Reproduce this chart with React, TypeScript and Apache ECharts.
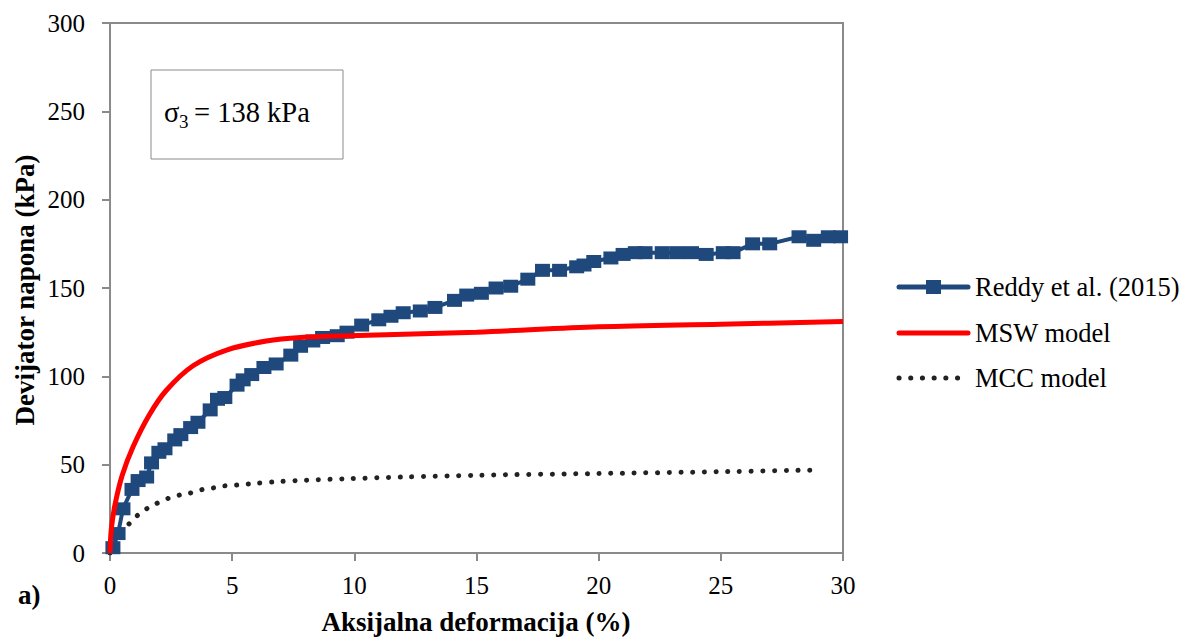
import React, { useEffect, useRef } from "react";
import * as echarts from "echarts";

const xTicks = [0, 5, 10, 15, 20, 25, 30];
const yTicks = [0, 50, 100, 150, 200, 250, 300];

const reddyX = [0.12, 0.33, 0.53, 0.9, 1.15, 1.5, 1.7, 2.0, 2.25, 2.65, 2.9, 3.3, 3.6, 4.1, 4.4, 4.7, 5.2, 5.45, 5.8, 6.3, 6.8, 7.4, 7.8, 8.3, 8.7, 9.3, 9.7, 10.3, 11.0, 11.5, 12.0, 12.7, 13.3, 14.1, 14.6, 15.2, 15.8, 16.4, 17.1, 17.7, 18.4, 19.1, 19.4, 19.8, 20.5, 21.0, 21.5, 21.9, 22.6, 23.2, 23.8, 24.4, 25.1, 25.5, 26.3, 27.0, 28.2, 28.8, 29.4, 29.9];
const reddyY = [3, 11, 25, 36, 41, 43, 51, 57, 59, 64, 67, 71, 74, 81, 87, 88, 95, 98, 101, 105, 107, 112, 117, 120, 122, 123, 125, 129, 132, 134, 136, 137, 139, 143, 146, 147, 150, 151, 155, 160, 160, 162, 163, 165, 167, 169, 170, 170, 170, 170, 170, 169, 170, 170, 175, 175, 179, 177, 179, 179];

const mswX = [0, 0.05, 0.2, 0.5, 0.94, 1.6, 2.3, 3.4, 4.8, 6.4, 7.8, 9.8, 15, 20, 25, 30];
const mswY = [0, 13, 27, 44, 60, 78, 92, 106, 115, 120, 122, 123, 125, 128, 129.5, 131];

const mccX = [0, 0.2, 0.5, 0.75, 1.1, 1.5, 1.9, 2.4, 2.9, 3.3, 3.8, 4.3, 4.7, 5.2, 6, 7, 8, 9.6, 12, 15, 20, 25, 29];
const mccY = [0, 6, 11, 16, 21, 25, 28, 31, 33, 34, 36, 37, 38, 38.5, 39.5, 40.5, 41.2, 42, 43, 44, 45, 46, 47];

const seriesNames = ["Reddy et al. (2015)", "MSW model", "MCC model"];
const FONT = "Liberation Serif, Times New Roman, serif";
const AXIS_COLOR = "#8a8a8a";
const BLUE = "#1F497D";
const RED = "#FF0000";
const DARK = "#222222";

const zip = (xs: number[], ys: number[]) => xs.map((x, i) => [x, ys[i]]);

const txt = (text: string, size: number, weight: string = "normal") => ({
  text,
  fontSize: size,
  fontFamily: FONT,
  fontWeight: weight,
  fill: "#000",
});

export default function App() {
  const ref = useRef<HTMLDivElement>(null);
  useEffect(() => {
    if (!ref.current) return;
    const chart = echarts.init(ref.current, null, { renderer: "svg" });
    const legendX = 897;
    const legendRows = [287, 333, 378];
    chart.setOption({
      animation: false,
      backgroundColor: "#ffffff",
      textStyle: { fontFamily: FONT },
      grid: {
        left: 110,
        top: 23,
        right: 342,
        bottom: 87,
        show: true,
        borderColor: AXIS_COLOR,
        borderWidth: 2,
      },
      xAxis: {
        type: "value",
        min: xTicks[0],
        max: xTicks[xTicks.length - 1],
        interval: 5,
        axisLine: { show: true, lineStyle: { color: AXIS_COLOR, width: 2 } },
        axisTick: { show: true, length: 8, lineStyle: { color: AXIS_COLOR, width: 2 } },
        splitLine: { show: false },
        axisLabel: { color: "#000", fontSize: 25, fontFamily: FONT, margin: 20 },
      },
      yAxis: {
        type: "value",
        min: yTicks[0],
        max: yTicks[yTicks.length - 1],
        interval: 50,
        axisLine: { show: true, lineStyle: { color: AXIS_COLOR, width: 2 } },
        axisTick: { show: true, length: 8, lineStyle: { color: AXIS_COLOR, width: 2 } },
        splitLine: { show: false },
        axisLabel: { color: "#000", fontSize: 25, fontFamily: FONT, margin: 25 },
      },
      series: [
        {
          name: seriesNames[0],
          type: "line",
          data: zip(reddyX, reddyY),
          symbol: "rect",
          symbolSize: [15, 13],
          itemStyle: { color: BLUE },
          lineStyle: { color: BLUE, width: 4 },
          z: 3,
        },
        {
          name: seriesNames[1],
          type: "line",
          data: zip(mswX, mswY),
          symbol: "none",
          smooth: 0.35,
          itemStyle: { color: RED },
          lineStyle: { color: RED, width: 5 },
          z: 4,
        },
        {
          name: seriesNames[2],
          type: "line",
          data: zip(mccX, mccY),
          symbol: "none",
          smooth: 0.3,
          itemStyle: { color: DARK },
          lineStyle: { color: DARK, width: 5, type: [0.1, 11.6], cap: "round" },
          z: 2,
        },
      ],
      graphic: [
        {
          type: "rect",
          shape: { x: 151, y: 70, width: 192, height: 89 },
          style: { fill: "#fff", stroke: AXIS_COLOR, lineWidth: 1 },
          z: 10,
        },
        { type: "text", x: 164, y: 112, style: { ...txt("σ", 28.5), textVerticalAlign: "middle" }, z: 11 },
        { type: "text", x: 179, y: 121, style: { ...txt("3", 19), textVerticalAlign: "middle" }, z: 11 },
        { type: "text", x: 194, y: 112, style: { ...txt("= 138 kPa", 28.5), textVerticalAlign: "middle" }, z: 11 },
        {
          type: "text",
          x: 25,
          y: 290,
          rotation: Math.PI / 2,
          style: { ...txt("Devijator napona (kPa)", 27, "bold"), textAlign: "center", textVerticalAlign: "middle" },
        },
        {
          type: "text",
          x: 476,
          y: 622,
          style: { ...txt("Aksijalna deformacija (%)", 27, "bold"), textAlign: "center", textVerticalAlign: "middle" },
        },
        { type: "text", x: 18, y: 595, style: { ...txt("a)", 27, "bold"), textVerticalAlign: "middle" } },
        // legend
        {
          type: "line",
          shape: { x1: legendX + 2, y1: legendRows[0], x2: legendX + 71, y2: legendRows[0] },
          style: { stroke: BLUE, lineWidth: 5, lineCap: "round" },
        },
        {
          type: "rect",
          shape: { x: legendX + 29, y: legendRows[0] - 7, width: 15, height: 14 },
          style: { fill: BLUE },
        },
        {
          type: "line",
          shape: { x1: legendX + 2, y1: legendRows[1], x2: legendX + 71, y2: legendRows[1] },
          style: { stroke: RED, lineWidth: 5, lineCap: "round" },
        },
        {
          type: "line",
          shape: { x1: legendX + 2, y1: legendRows[2], x2: legendX + 71, y2: legendRows[2] },
          style: { stroke: DARK, lineWidth: 5, lineCap: "round", lineDash: [0.1, 11.6] },
        },
        ...seriesNames.map((n, i) => ({
          type: "text",
          x: legendX + 78,
          y: legendRows[i],
          style: { ...txt(n, 26.5), textVerticalAlign: "middle" },
        })),
      ],
    });
    return () => chart.dispose();
  }, []);
  return (
    <div
      ref={ref}
      style={{ position: "absolute", left: 0, top: 0, width: 1185, height: 640 }}
    />
  );
}
